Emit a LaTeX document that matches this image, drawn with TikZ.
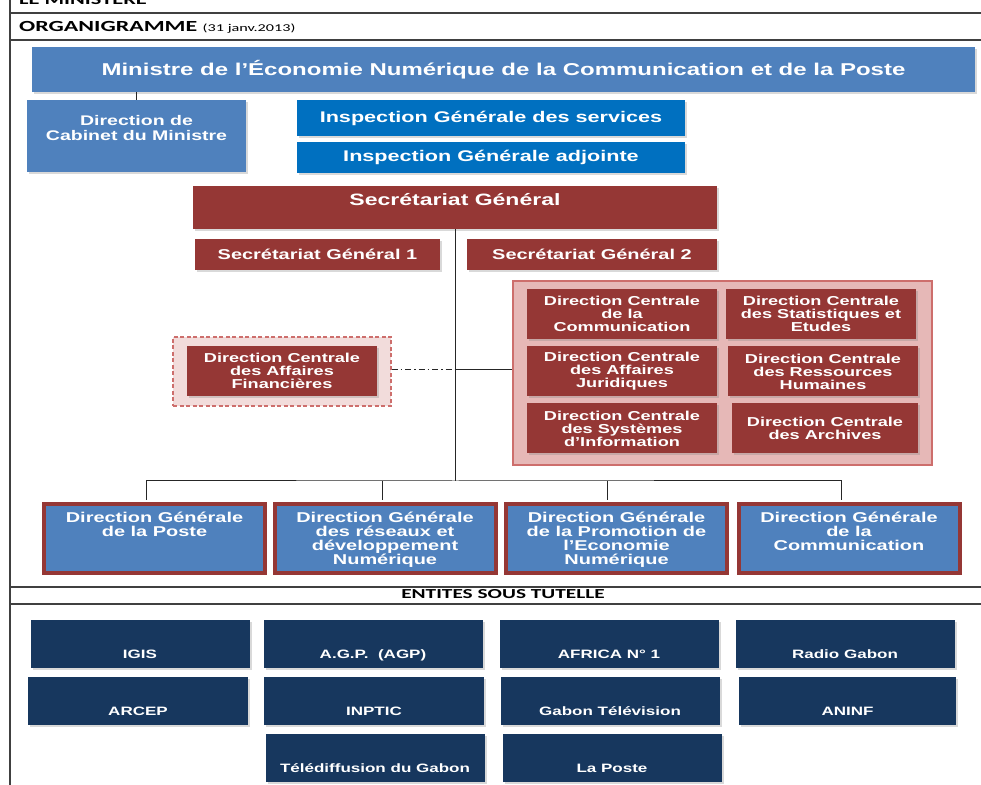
\documentclass[tikz,border=0pt]{standalone}
\usepackage{fontspec}
\setmainfont[FakeStretch=1.4]{Liberation Sans}
\newfontfamily\calibri[FakeStretch=1.55]{Carlito}
\usetikzlibrary{shadows}

\definecolor{minblue}{RGB}{79,129,189}
\definecolor{igblue}{RGB}{0,112,192}
\definecolor{sgred}{RGB}{149,55,53}
\definecolor{pinkfill}{RGB}{230,184,183}
\definecolor{pinkline}{RGB}{205,110,108}
\definecolor{lightpink}{RGB}{242,220,219}
\definecolor{navy}{RGB}{23,55,94}
\definecolor{rule}{RGB}{64,64,64}

\tikzset{
  box/.style={rectangle, inner sep=1bp, text=white, align=center,
    drop shadow={shadow xshift=2bp, shadow yshift=-2bp, opacity=.3}},
  minbox/.style={box, fill=minblue, font=\bfseries\fontsize{17.2}{18}\selectfont},
  igbox/.style={box, fill=igblue, minimum width=388bp, font=\bfseries\fontsize{15.5}{17}\selectfont},
  sgbox/.style={box, fill=sgred},
  sgsub/.style={box, fill=sgred, minimum width=245bp, minimum height=31bp, font=\bfseries\fontsize{14.3}{15}\selectfont},
  dcbox/.style={box, fill=sgred, minimum width=190bp, minimum height=50bp, font=\bfseries\fontsize{13}{13}\selectfont},
  dgbox/.style={box, fill=minblue, draw=sgred, line width=4bp, minimum width=221bp, minimum height=69bp},
  entbox/.style={box, fill=navy, minimum width=219bp, minimum height=48bp, text height=30bp, text depth=2bp, font=\bfseries\fontsize{12.2}{13}\selectfont},
  boxtext/.style={text=white, align=center, anchor=north, inner sep=0bp},
  frame/.style={draw=rule, line width=1.4bp},
  link/.style={draw=black!85, line width=1bp}
}

\begin{document}
\begin{tikzpicture}
  \clip (0bp,0bp) rectangle (981bp,785bp);
  % page frame
  \draw[frame] (10bp,0bp) -- (10bp,785bp);
  \draw[frame] (10bp,772bp) -- (981bp,772bp);
  \draw[frame] (10bp,745bp) -- (981bp,745bp);
  \draw[frame] (10bp,198bp) -- (981bp,198bp);
  \draw[frame] (10bp,181bp) -- (981bp,181bp);
  \node (head) at (19bp,780.5bp) [anchor=base west, inner sep=0bp, font=\calibri\bfseries\fontsize{14.5}{16}\selectfont] {LE MINISTERE};
  \node (title) at (19bp,753bp) [anchor=base west, inner sep=0bp, font=\calibri\bfseries\fontsize{15.5}{16}\selectfont] {ORGANIGRAMME {\fontsize{10.5}{11}\selectfont\mdseries(31 janv.2013)}};
  \node (tutelle) at (503bp,186bp) [anchor=base, inner sep=0bp, font=\calibri\bfseries\fontsize{13.8}{14}\selectfont] {ENTITES SOUS TUTELLE};

  % ministre
  \node (min) at (503.5bp,715.5bp) [minbox, minimum width=943bp, minimum height=45bp] {Ministre de l’Économie Numérique de la Communication et de la Poste};
  \node (cab) at (136.5bp,649bp) [box, fill=minblue, minimum width=219bp, minimum height=72bp,
    label={[boxtext, yshift=-15bp, font=\bfseries\fontsize{14}{15}\selectfont]north:{Direction de\\Cabinet du Ministre}}] {};
  \draw[link] (cab.north) -- (cab.north |- min.south);
  \node (igs) at (491bp,667bp) [igbox, minimum height=36bp] {Inspection Générale des services};
  \node (iga) at (491bp,627.5bp) [igbox, minimum height=31bp] {Inspection Générale adjointe};

  % secretariat
  \node (sg) at (455bp,577.5bp) [sgbox, minimum width=524bp, minimum height=43bp,
    label={[boxtext, yshift=-7bp, font=\bfseries\fontsize{16.5}{17}\selectfont]north:Secrétariat Général}] {};
  \node (sg1) at (317.5bp,530.5bp) [sgsub] {Secrétariat Général 1};
  \node (sg2) at (592bp,530.5bp) [sgsub, minimum width=250bp] {Secrétariat Général 2};

  % directions centrales
  \node (dcgroup) at (722.5bp,412bp) [draw=pinkline, fill=pinkfill, line width=1.2bp, minimum width=419bp, minimum height=184bp] {};
  \node (dccom) at (622bp,471bp) [dcbox] {Direction Centrale\\de la\\Communication};
  \node (dcstat) at (821bp,471bp) [dcbox] {Direction Centrale\\des Statistiques et\\Etudes};
  \node (dcjur) at (622bp,413.5bp) [dcbox] {Direction Centrale\\des Affaires\\Juridiques};
  \node (dcrh) at (823bp,413.5bp) [dcbox] {Direction Centrale\\des Ressources\\Humaines};
  \node (dcsi) at (622bp,356.5bp) [dcbox] {Direction Centrale\\des Systèmes\\d’Information};
  \node (dcarch) at (825bp,356.5bp) [dcbox, minimum width=186bp] {Direction Centrale\\des Archives};

  \node (dafgroup) at (282bp,413.5bp) [draw=pinkline, fill=lightpink, line width=1.2bp, dash pattern=on 4bp off 2.5bp, minimum width=218bp, minimum height=69bp] {};
  \node (daf) at (282bp,414bp) [dcbox] {Direction Centrale\\des Affaires\\Financières};

  % liaisons
  \coordinate (mid) at (455bp,415bp);
  \coordinate (bus) at (455bp,304bp);
  \draw[link, dash pattern=on 6bp off 3bp on 1.5bp off 3bp] (dafgroup.east |- mid) -- (mid);
  \draw[link] (mid) -- (dcgroup.west |- mid);
  \draw[link] (sg.south) -- (bus);

  % directions generales
  \node (dgposte) at (154.5bp,246.5bp) [dgbox,
    label={[boxtext, yshift=-10bp, font=\bfseries\fontsize{14.3}{14}\selectfont]north:{Direction Générale\\de la Poste}}] {};
  \node (dgres) at (385bp,246.5bp) [dgbox,
    label={[boxtext, yshift=-10bp, font=\bfseries\fontsize{14.3}{14}\selectfont]north:{Direction Générale\\des réseaux et\\développement\\Numérique}}] {};
  \node (dgpro) at (616.5bp,246.5bp) [dgbox,
    label={[boxtext, yshift=-10bp, font=\bfseries\fontsize{14.3}{14}\selectfont]north:{Direction Générale\\de la Promotion de\\l’Economie\\Numérique}}] {};
  \node (dgcom) at (849bp,246.5bp) [dgbox,
    label={[boxtext, yshift=-10bp, font=\bfseries\fontsize{14.3}{14}\selectfont]north:{Direction Générale\\de la\\Communication}}] {};
  \draw[link] ([xshift=-8bp,yshift=2bp]dgposte.north) |- (bus) -| ([xshift=-8bp,yshift=2bp]dgcom.north);
  \draw[link] ([xshift=-3bp,yshift=2bp]dgres.north) -- ([xshift=-3bp]dgres.north |- bus);
  \draw[link] ([xshift=-9bp,yshift=2bp]dgpro.north) -- ([xshift=-9bp]dgpro.north |- bus);

  % entites sous tutelle
  \node (igis) at (140bp,140.5bp) [entbox] {IGIS};
  \node (agp) at (373bp,140.5bp) [entbox] {A.G.P.\ \ (AGP)};
  \node (africa) at (609bp,140.5bp) [entbox] {AFRICA N° 1};
  \node (radio) at (845bp,140.5bp) [entbox] {Radio Gabon};
  \node (arcep) at (138bp,83.5bp) [entbox, minimum width=220bp] {ARCEP};
  \node (inptic) at (374bp,83.5bp) [entbox, minimum width=220bp] {INPTIC};
  \node (gabtv) at (610bp,83.5bp) [entbox] {Gabon Télévision};
  \node (aninf) at (847.5bp,83.5bp) [entbox, minimum width=217bp] {ANINF};
  \node (tdg) at (375bp,27bp) [entbox] {Télédiffusion du Gabon};
  \node (laposte) at (612bp,27bp) [entbox] {La Poste};
\end{tikzpicture}
\end{document}
